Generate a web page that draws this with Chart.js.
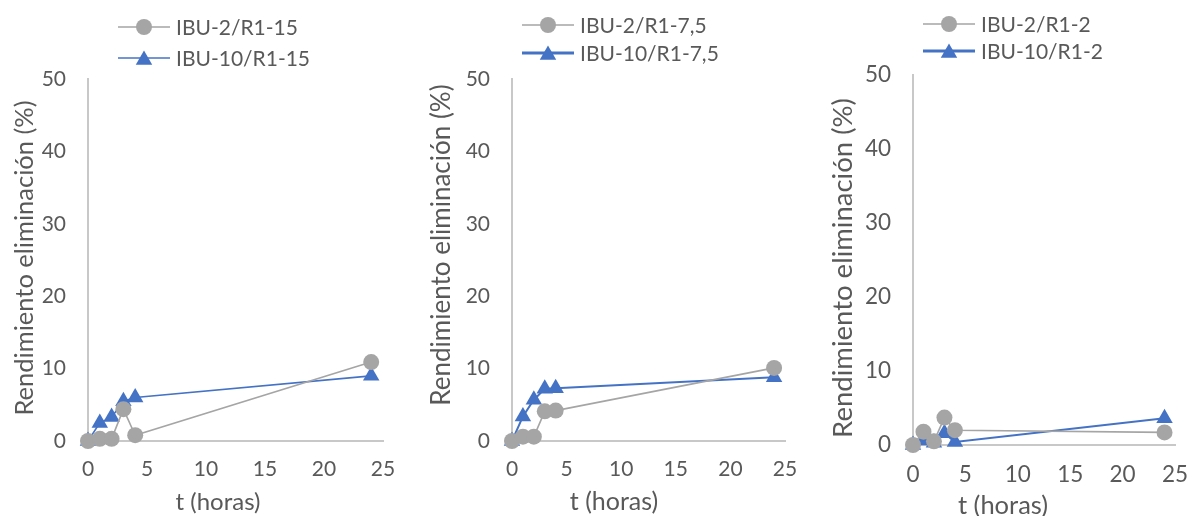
<!DOCTYPE html>
<html>
<head>
<meta charset="utf-8">
<script src="https://cdn.jsdelivr.net/npm/chart.js@4.4.1/dist/chart.umd.min.js"></script>
<style>
  html, body { margin: 0; padding: 0; background: #ffffff; }
  body { width: 1191px; height: 516px; position: relative; overflow: hidden; }
  .panel { position: absolute; top: 0; height: 516px; }
  .panel canvas { display: block; }
</style>
</head>
<body>
<div class="panel" id="p1" style="left:0px;width:400px"><canvas id="c1" width="400" height="516"></canvas></div>
<div class="panel" id="p2" style="left:400px;width:400px"><canvas id="c2" width="400" height="516"></canvas></div>
<div class="panel" id="p3" style="left:800px;width:391px"><canvas id="c3" width="391" height="516"></canvas></div>
<script>
// Sampling times (hours)
const hours = [0, 1, 2, 3, 4, 24];

// Removal yield (%) per reactor loading
const ibu2_R1_15  = [0, 0.3, 0.3, 4.4, 0.8, 10.9];
const ibu10_R1_15 = [0, 2.5, 3.3, 5.5, 6.0, 9.0];

const ibu2_R1_75  = [0, 0.6, 0.6, 4.1, 4.2, 10.1];
const ibu10_R1_75 = [0, 3.4, 5.7, 7.2, 7.3, 8.8];

const ibu2_R1_2   = [0, 1.8, 0.5, 3.7, 2.0, 1.7];
const ibu10_R1_2  = [0, 0.6, 0.3, 1.6, 0.4, 3.6];

const seriesLabels = [
  ['IBU-2/R1-15', 'IBU-10/R1-15'],
  ['IBU-2/R1-7,5', 'IBU-10/R1-7,5'],
  ['IBU-2/R1-2', 'IBU-10/R1-2']
];

const xTitle = 't (horas)';
const yTitle = 'Rendimiento eliminación (%)';

const xTicks = [0, 5, 10, 15, 20, 25];
const yTicks = [0, 10, 20, 30, 40, 50];

const GRAY = '#a5a5a5';
const BLUE = '#4472c4';
const TEXT = '#595959';
const AXIS = '#c8c8c8';
const FONT = 'Lato, "Open Sans", sans-serif';
const FS = 21; // legend text

function toXY(xs, ys) { return xs.map((x, i) => ({ x: x, y: ys[i] })); }

// Legend drawn as Excel-style line + marker samples stacked vertically
const stackedLegend = {
  id: 'stackedLegend',
  afterDraw(chart, args, opts) {
    const ctx = chart.ctx;
    ctx.save();
    chart.data.datasets.forEach((ds, i) => {
      const y = opts.y0 + i * opts.gap;
      const x0 = opts.x0, x1 = opts.x0 + 52, xm = (x0 + x1) / 2;
      ctx.strokeStyle = ds.borderColor;
      ctx.lineWidth = ds.legendLineWidth || ds.borderWidth;
      ctx.beginPath(); ctx.moveTo(x0, y); ctx.lineTo(x1, y); ctx.stroke();
      ctx.fillStyle = ds.backgroundColor;
      ctx.strokeStyle = ds.backgroundColor;
      Chart.helpers.drawPoint(ctx, {
        pointStyle: ds.pointStyle, radius: ds.pointRadius, borderWidth: 0, rotation: 0
      }, xm, y + (ds.pointStyle === 'triangle' ? 2 : 0));
      ctx.fillStyle = TEXT;
      ctx.font = FS + 'px ' + FONT;
      ctx.textBaseline = 'middle';
      ctx.textAlign = 'left';
      ctx.fillText(ds.label, x1 + 6, y + 1);
    });
    ctx.restore();
  }
};

// Axis titles placed at fixed spots of each panel
const axisTitles = {
  id: 'axisTitles',
  afterDraw(chart, args, opts) {
    const ctx = chart.ctx;
    ctx.save();
    ctx.fillStyle = TEXT;
    ctx.textAlign = 'center';
    ctx.textBaseline = 'middle';
    ctx.font = opts.x.size + 'px ' + FONT;
    ctx.fillText(opts.x.text, opts.x.cx, opts.x.cy);
    ctx.translate(opts.y.cx, opts.y.cy);
    ctx.rotate(-Math.PI / 2);
    ctx.font = opts.y.size + 'px ' + FONT;
    ctx.fillText(opts.y.text, 0, 0);
    ctx.restore();
  }
};

function makePanel(id, labels, grayData, blueData, lay) {
  const ctx = document.getElementById(id);
  return new Chart(ctx, {
    type: 'line',
    data: {
      datasets: [
        {
          label: labels[0],
          data: toXY(hours, grayData),
          borderColor: GRAY, backgroundColor: GRAY,
          borderWidth: 1.6, pointStyle: 'circle', pointRadius: 8,
          pointBorderWidth: 0, pointHoverRadius: 8,
          tension: 0, clip: false
        },
        {
          label: labels[1],
          data: toXY(hours, blueData),
          borderColor: BLUE, backgroundColor: BLUE,
          borderWidth: lay.blueWidth, legendLineWidth: lay.blueLegendWidth,
          pointStyle: 'triangle', pointRadius: 9.5,
          pointBorderWidth: 0, pointHoverRadius: 9.5,
          tension: 0, clip: false
        }
      ]
    },
    options: {
      responsive: false,
      animation: false,
      events: [],
      layout: { padding: { left: 0, right: lay.right, top: lay.top, bottom: 0 } },
      plugins: {
        legend: { display: false },
        tooltip: { enabled: false },
        stackedLegend: { x0: lay.legX, y0: lay.legY, gap: lay.legGap },
        axisTitles: {
          x: { text: xTitle, cx: lay.xt[0], cy: lay.xt[1], size: lay.xt[2] },
          y: { text: yTitle, cx: lay.yt[0], cy: lay.yt[1], size: lay.yt[2] }
        }
      },
      scales: {
        x: {
          type: 'linear', min: 0, max: 25,
          afterBuildTicks: s => { s.ticks = xTicks.map(v => ({ value: v })); },
          afterFit: s => { s.height = lay.xHeight; s.paddingLeft = 0; s.paddingRight = 0; },
          grid: { display: false, drawTicks: false },
          border: { display: true, color: AXIS, width: 2 },
          ticks: { color: TEXT, font: { family: FONT, size: lay.tickSize }, padding: 16, maxRotation: 0 },
          title: { display: false }
        },
        y: {
          type: 'linear', min: 0, max: 50,
          afterBuildTicks: s => { s.ticks = yTicks.map(v => ({ value: v })); },
          afterFit: s => { s.width = lay.yWidth; s.paddingTop = 0; s.paddingBottom = 0; },
          grid: { display: false, drawTicks: false },
          border: { display: true, color: AXIS, width: 2 },
          ticks: { color: TEXT, font: { family: FONT, size: lay.tickSize }, padding: 22 },
          title: { display: false }
        }
      }
    },
    plugins: [stackedLegend, axisTitles]
  });
}

makePanel('c1', seriesLabels[0], ibu2_R1_15, ibu10_R1_15, {
  right: 17, top: 79, xHeight: 75, yWidth: 88, tickSize: 21,
  xt: [218, 502, 24], yt: [25, 258, 25.5],
  legX: 118, legY: 27, legGap: 31, blueWidth: 1.6, blueLegendWidth: 1.6
});
makePanel('c2', seriesLabels[1], ibu2_R1_75, ibu10_R1_75, {
  right: 15, top: 79, xHeight: 75, yWidth: 112, tickSize: 21,
  xt: [214, 502, 25], yt: [42, 245, 26],
  legX: 122, legY: 25, legGap: 28, blueWidth: 2, blueLegendWidth: 2.8
});
makePanel('c3', seriesLabels[2], ibu2_R1_2, ibu10_R1_2, {
  right: 16, top: 75, xHeight: 71, yWidth: 113, tickSize: 22.5,
  xt: [203, 506, 25.5], yt: [43, 268, 27.5],
  legX: 123, legY: 24, legGap: 27, blueWidth: 2, blueLegendWidth: 2.8
});
</script>
</body>
</html>
